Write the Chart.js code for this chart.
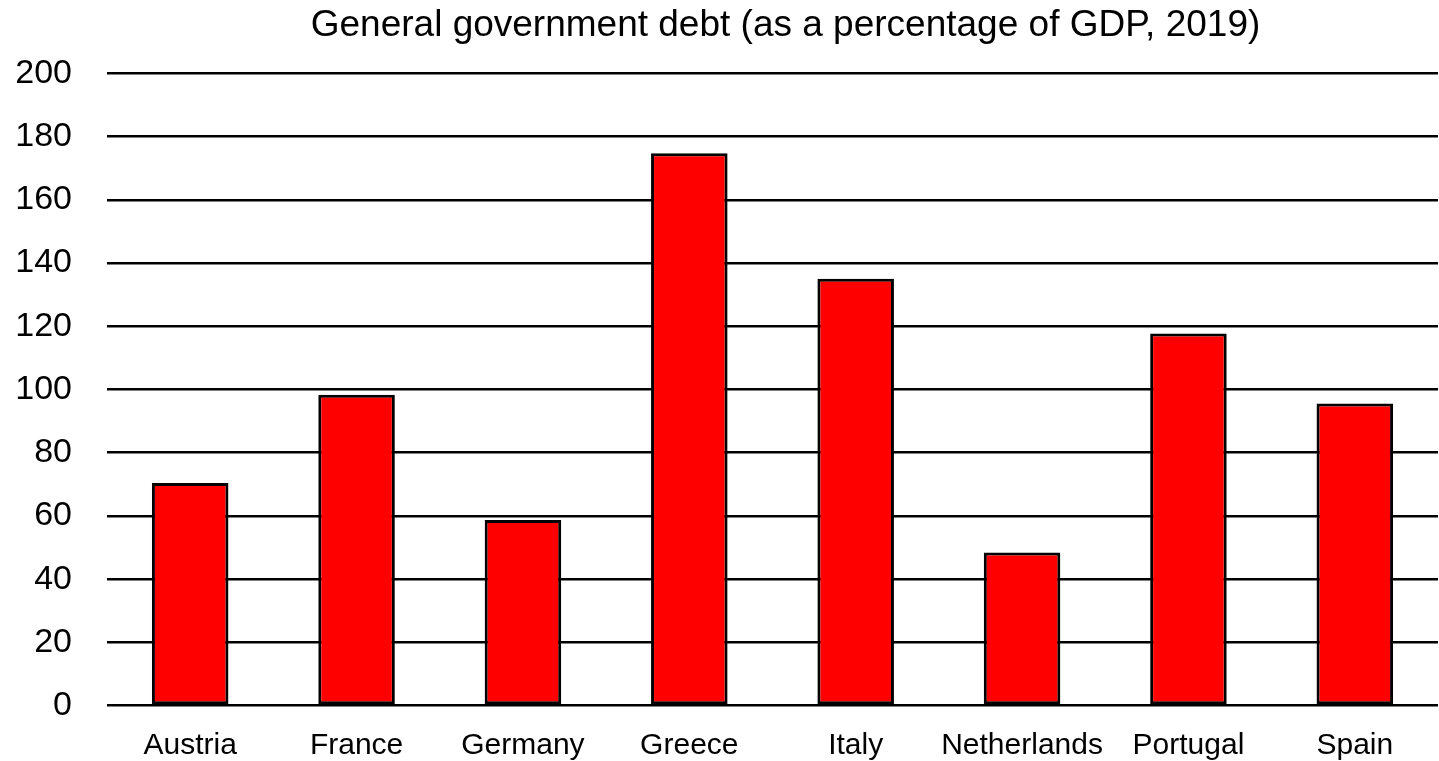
<!DOCTYPE html>
<html>
<head>
<meta charset="utf-8">
<script src="https://cdn.jsdelivr.net/npm/chart.js@4/dist/chart.umd.min.js"></script>
<style>
    html, body { margin: 0; padding: 0; background: #fff; }
    #wrap { width: 1439px; height: 761px; }
</style>
</head>
<body>
<div id="wrap"><canvas id="debtChart"></canvas></div>
<script>
// General government debt, % of GDP, 2019
const countries = ['Austria', 'France', 'Germany', 'Greece', 'Italy', 'Netherlands', 'Portugal', 'Spain'];
const debtValues = [70.4, 98.3, 58.7, 174.7, 135.0, 48.4, 117.7, 95.6];
const yTicks = [0, 20, 40, 60, 80, 100, 120, 140, 160, 180, 200];

const FONT = "'Liberation Sans', Arial, sans-serif";

// nudge the title a little to the right, like the original
const titleShift = {
    id: 'titleShift',
    afterLayout(chart) {
        if (chart.titleBlock) chart.titleBlock.left += 26;
    }
};

new Chart(document.getElementById('debtChart'), {
    type: 'bar',
    data: {
        labels: countries,
        datasets: [
            {
                label: 'Debt',
                data: debtValues,
                backgroundColor: '#ff0000',
                borderColor: '#000000',
                borderWidth: 3,
                borderSkipped: false,
                categoryPercentage: 1,
                barPercentage: 0.46
            }
        ]
    },
    options: {
        responsive: true,
        maintainAspectRatio: false,
        animation: false,
        layout: {
            padding: { top: 0, bottom: 0, left: 0, right: 1 }
        },
        plugins: {
            legend: { display: false },
            tooltip: { enabled: false },
            title: {
                display: true,
                text: 'General government debt (as a percentage of GDP, 2019)',
                color: '#000',
                fullSize: false,
                font: { family: FONT, size: 37, weight: 'normal' },
                padding: { top: 4, bottom: 25 }
            }
        },
        scales: {
            y: {
                min: 0,
                max: 200,
                afterBuildTicks: axis => { axis.ticks = yTicks.map(v => ({ value: v })); },
                afterFit: axis => { axis.width = 107; },
                border: { display: false },
                grid: { color: '#000', lineWidth: 2.5, drawTicks: false },
                ticks: {
                    color: '#000',
                    padding: 35,
                    font: { family: FONT, size: 34 }
                }
            },
            x: {
                afterFit: axis => { axis.height = 55; },
                border: { display: false },
                grid: { display: false, drawTicks: false },
                ticks: {
                    color: '#000',
                    padding: 22,
                    maxRotation: 0,
                    autoSkip: false,
                    font: { family: FONT, size: 30 }
                }
            }
        }
    },
    plugins: [titleShift]
});
</script>
</body>
</html>
